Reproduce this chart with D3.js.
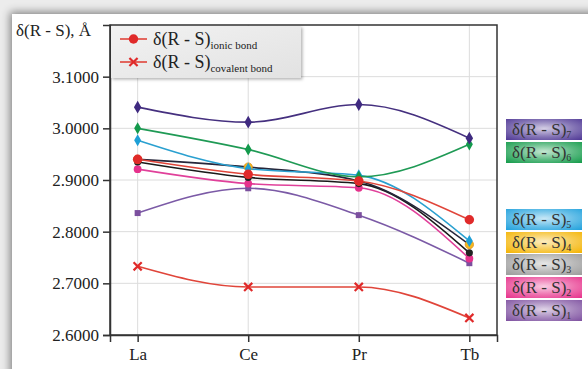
<!DOCTYPE html>
<html>
<head>
<meta charset="utf-8">
<script src="https://cdn.jsdelivr.net/npm/d3@7"></script>
<style>
  body { margin: 0; background: #fff; }
  svg { display: block; font-family: 'Liberation Serif', 'Times New Roman', serif; }
</style>
</head>
<body>
<svg id="chart" width="588" height="369"></svg>
<script>
const elements = ['La', 'Ce', 'Pr', 'Tb']
const yTicks = [2.6, 2.7, 2.8, 2.9, 3.0, 3.1]

const ionic = [2.940, 2.911, 2.898, 2.823]
const covalent = [2.733, 2.693, 2.693, 2.633]
const rs7 = [3.041, 3.012, 3.046, 2.981]
const rs6 = [3.000, 2.959, 2.906, 2.969]
const rs5 = [2.977, 2.922, 2.909, 2.782]
const rs4 = [2.940, 2.925, 2.898, 2.775]
const rs3 = [2.935, 2.905, 2.893, 2.759]
const rs2 = [2.921, 2.893, 2.885, 2.748]
const rs1 = [2.836, 2.884, 2.832, 2.739]

const series = [
  { name: '1', values: rs1, line: '#7b5aa6', fill: '#7b4f9e', symbol: d3.symbolSquare, size: 36 },
  { name: '2', values: rs2, line: '#e0409a', fill: '#e6318c', symbol: d3.symbolCircle, size: 48 },
  { name: '3', values: rs3, line: '#1a1a1a', fill: '#222222', symbol: d3.symbolCircle, size: 40 },
  { name: '4', values: rs4, line: '#26263a', fill: '#f5b81c', symbol: d3.symbolCircle, size: 55 },
  { name: '5', values: rs5, line: '#2aa0d0', fill: '#1d9fd6', symbol: d3.symbolDiamond, size: 42 },
  { name: '6', values: rs6, line: '#1f9a55', fill: '#139a4c', symbol: d3.symbolDiamond, size: 42 },
  { name: '7', values: rs7, line: '#45307f', fill: '#3f2a80', symbol: d3.symbolDiamond, size: 48 },
  { name: 'ionic', values: ionic, line: '#e0453a', fill: '#e02a2a', symbol: d3.symbolCircle, size: 70 },
  { name: 'covalent', values: covalent, line: '#e0453a', fill: '#e02a2a', symbol: d3.symbolTimes, size: 45, stroke: true }
]

const badges = [
  { name: '7', c: '#4d3594', y: 119 },
  { name: '6', c: '#119a48', y: 142 },
  { name: '5', c: '#1ea0dc', y: 209 },
  { name: '4', c: '#f4b300', y: 232 },
  { name: '3', c: '#9a9a9a', y: 254 },
  { name: '2', c: '#e6308a', y: 277 },
  { name: '1', c: '#7d4f9f', y: 300 }
]

const svg = d3.select('#chart')
const defs = svg.append('defs')

// card background with shadow
svg.append('rect').attr('width', 588).attr('height', 369).attr('fill', '#ececec')
const sh = defs.append('filter').attr('id', 'shadow').attr('x', -0.1).attr('y', -0.1).attr('width', 1.2).attr('height', 1.2)
sh.append('feDropShadow').attr('dx', -2).attr('dy', -2).attr('stdDeviation', 4).attr('flood-color', '#000').attr('flood-opacity', 0.45)
svg.append('rect').attr('x', 12).attr('y', 14).attr('width', 590).attr('height', 370)
  .attr('fill', '#fff').attr('filter', 'url(#shadow)')

const plot = { left: 110, right: 497, top: 25, bottom: 335 }

const x = d3.scalePoint().domain(elements).range([plot.left, plot.right]).padding(0.25)
const y = d3.scaleLinear().domain([2.6, 3.2]).range([plot.bottom, plot.top])

// grid
svg.append('g').selectAll('line').data(yTicks.slice(1)).join('line')
  .attr('x1', plot.left).attr('x2', plot.right)
  .attr('y1', d => y(d)).attr('y2', d => y(d))
  .attr('stroke', '#dcdcdc').attr('stroke-width', 1)
svg.append('g').selectAll('line').data(elements).join('line')
  .attr('x1', d => x(d)).attr('x2', d => x(d))
  .attr('y1', plot.top).attr('y2', plot.bottom)
  .attr('stroke', '#dcdcdc').attr('stroke-width', 1)

// frame
svg.append('rect')
  .attr('x', plot.left).attr('y', plot.top)
  .attr('width', plot.right - plot.left).attr('height', plot.bottom - plot.top)
  .attr('fill', 'none').attr('stroke', '#333').attr('stroke-width', 1.5)

// axes
const yAxis = svg.append('g')
  .attr('transform', 'translate(' + plot.left + ',0)')
  .call(d3.axisLeft(y).tickValues(yTicks).tickFormat(d3.format('.4f')).tickSize(7).tickPadding(4))
const xAxis = svg.append('g')
  .attr('transform', 'translate(0,' + plot.bottom + ')')
  .call(d3.axisBottom(x).tickSize(7).tickPadding(6))
;[yAxis, xAxis].forEach(a => {
  a.attr('font-family', "'Liberation Serif', 'Times New Roman', serif")
  a.select('.domain').attr('stroke', '#333').attr('stroke-width', 1.5)
  a.selectAll('.tick line').attr('stroke', '#333').attr('stroke-width', 1.5)
  a.selectAll('.tick text').attr('fill', '#222').attr('font-size', 17)
})

// lines
const line = d3.line()
  .x((d, i) => x(elements[i]))
  .y(d => y(d))
  .curve(d3.curveMonotoneX)

series.forEach(s => {
  svg.append('path')
    .datum(s.values)
    .attr('d', line)
    .attr('fill', 'none')
    .attr('stroke', s.line)
    .attr('stroke-width', 1.6)
})
series.forEach(s => {
  svg.append('g').selectAll('path').data(s.values).join('path')
    .attr('transform', (d, i) => 'translate(' + x(elements[i]) + ',' + y(d) + ')')
    .attr('d', d3.symbol().type(s.symbol).size(s.size))
    .attr('fill', s.stroke ? 'none' : s.fill)
    .attr('stroke', s.stroke ? s.fill : (s.name === '4' ? '#e09020' : 'none'))
    .attr('stroke-width', s.stroke ? 2.2 : 0.8)
})

// top-left legend
const lg = defs.append('linearGradient').attr('id', 'lg').attr('x1', 0).attr('y1', 0).attr('x2', 1).attr('y2', 1)
lg.append('stop').attr('offset', 0).attr('stop-color', '#f2f2f2')
lg.append('stop').attr('offset', 1).attr('stop-color', '#e2e2e2')
const lsh = defs.append('filter').attr('id', 'lsh').attr('x', -0.1).attr('y', -0.2).attr('width', 1.3).attr('height', 1.5)
lsh.append('feDropShadow').attr('dx', 1.5).attr('dy', 1.5).attr('stdDeviation', 1.5).attr('flood-color', '#000').attr('flood-opacity', 0.3)
svg.append('rect').attr('x', plot.left + 1).attr('y', plot.top + 1).attr('width', 190).attr('height', 52)
  .attr('fill', 'url(#lg)').attr('filter', 'url(#lsh)')

const legendItems = [
  { s: series[7], sub: 'ionic bond', y: 39 },
  { s: series[8], sub: 'covalent bond', y: 62 }
]
legendItems.forEach(item => {
  const g = svg.append('g').attr('transform', 'translate(0,' + item.y + ')')
  g.append('line').attr('x1', 120).attr('x2', 147).attr('stroke', item.s.line).attr('stroke-width', 1.6)
  g.append('path').attr('transform', 'translate(133.5,0)')
    .attr('d', d3.symbol().type(item.s.symbol).size(item.s.size))
    .attr('fill', item.s.stroke ? 'none' : item.s.fill)
    .attr('stroke', item.s.stroke ? item.s.fill : 'none')
    .attr('stroke-width', 2.2)
  const t = g.append('text').attr('x', 153).attr('y', 6).attr('font-size', 18).attr('fill', '#222')
  t.append('tspan').text('δ(R - S)')
  t.append('tspan').attr('font-size', 11).attr('dy', 4).text(item.sub)
})

// y title
svg.append('text').attr('x', 16).attr('y', 36).attr('font-size', 17).attr('fill', '#222').text('δ(R - S), Å')

// right badges
badges.forEach(b => {
  const id = 'bd' + b.name
  const rg = defs.append('radialGradient').attr('id', id).attr('cx', 0.5).attr('cy', 0.45).attr('r', 0.75)
  rg.append('stop').attr('offset', 0).attr('stop-color', d3.interpolateRgb(b.c, '#fff')(0.75))
  rg.append('stop').attr('offset', 0.55).attr('stop-color', d3.interpolateRgb(b.c, '#fff')(0.3))
  rg.append('stop').attr('offset', 1).attr('stop-color', b.c)
  svg.append('rect').attr('x', 506).attr('y', b.y).attr('width', 76).attr('height', 21)
    .attr('fill', 'url(#' + id + ')')
  const t = svg.append('text').attr('x', 512).attr('y', b.y + 16).attr('font-size', 17).attr('fill', '#333')
  t.append('tspan').text('δ(R - S)')
  t.append('tspan').attr('font-size', 10).attr('dy', 3).text(b.name)
})
</script>
</body>
</html>
